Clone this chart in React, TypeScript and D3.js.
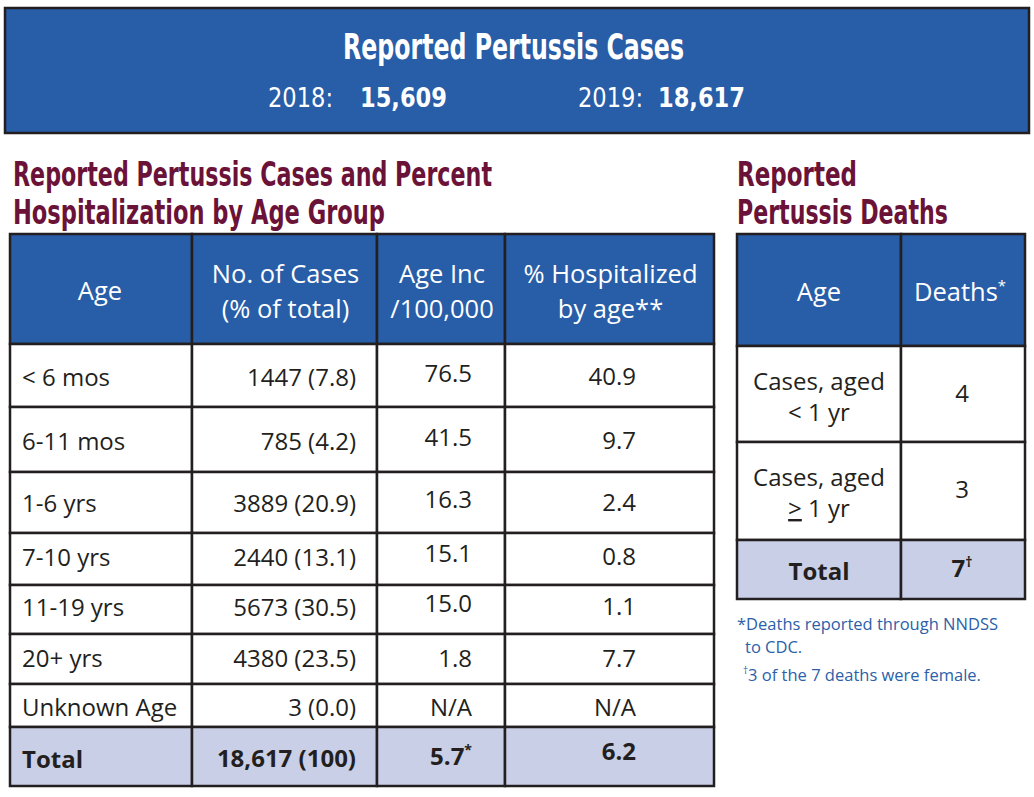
import React from "react";
import * as d3 from "d3";

// ---------- data ----------
const headlineYears = [2018, 2019];
const headlineCases = [15609, 18617];

const ageGroups = ["< 6 mos", "6-11 mos", "1-6 yrs", "7-10 yrs", "11-19 yrs", "20+ yrs", "Unknown Age"];
const caseCounts = [1447, 785, 3889, 2440, 5673, 4380, 3];
const casePercents = [7.8, 4.2, 20.9, 13.1, 30.5, 23.5, 0.0];
const incidence: (number | null)[] = [76.5, 41.5, 16.3, 15.1, 15.0, 1.8, null];
const pctHospitalized: (number | null)[] = [40.9, 9.7, 2.4, 0.8, 1.1, 7.7, null];
const totalCases = 18617;
const totalPercent = 100;
const totalIncidence = 5.7;
const totalHospitalized = 6.2;

const caseHeaders = [["Age"], ["No. of Cases", "(% of total)"], ["Age Inc", "/100,000"], ["% Hospitalized", "by age**"]];

const deathGroupsLine1 = ["Cases, aged", "Cases, aged"];
const deathGroupsSymbol = ["<", ">"];
const deathGroupsRest = [" 1 yr", " 1 yr"];
const deathCounts = [4, 3];
const totalDeaths = 7;

const footnotes = ["*Deaths reported through NNDSS", "to CDC.", "3 of the 7 deaths were female."];

// ---------- style / layout ----------
const BLUE = "#285da7";
const MAROON = "#6b1238";
const INK = "#231f20";
const TOTAL_BG = "#c9cfe6";
const FOOT = "#2b5fa9";
const BODY_FONT = "'Open Sans', Lato, sans-serif";
const COND_FONT = "'Liberation Sans Narrow', 'DejaVu Sans Condensed', sans-serif";
const SW = 2.5;
const BODY_SIZE = 24;
const HEAD_SIZE = 25.5;

const colX = [10, 192, 377, 505, 714];
const rowY = [234, 344, 407, 472, 533, 585, 634, 684, 727, 786];
const rowBase = [386, 450, 512, 566, 616, 667, 716, 768];

const dColX = [737, 901, 1025];
const dRowY = [234, 346, 442, 540, 599];

const fmt = d3.format(",");
const f1 = d3.format(".1f");

export default function App() {
  const caseRows = ageGroups.map((g, i) => ({
    age: g,
    cases: `${caseCounts[i]} (${f1(casePercents[i])})`,
    inc: incidence[i] == null ? "N/A" : f1(incidence[i] as number),
    hosp: pctHospitalized[i] == null ? "N/A" : f1(pctHospitalized[i] as number),
  }));

  return (
    <div style={{ position: "absolute", left: 0, top: 0 }}>
      <svg width={1034} height={797} style={{ display: "block", background: "#fff" }}>
        {/* banner */}
        <rect x={5} y={8} width={1024} height={125} fill={BLUE} stroke={INK} strokeWidth={2.5} />
        <text x={343} y={59} fill="#fff" fontFamily={COND_FONT} fontWeight="bold" fontSize={36}
          textLength={341} lengthAdjust="spacingAndGlyphs">Reported Pertussis Cases</text>
        <text x={268} y={107} fill="#fff" fontFamily={COND_FONT} fontSize={27} textLength={65} lengthAdjust="spacingAndGlyphs">{`${headlineYears[0]}:`}</text>
        <text x={360} y={107} fill="#fff" fontFamily={COND_FONT} fontWeight="bold" fontSize={27} textLength={87} lengthAdjust="spacingAndGlyphs">{fmt(headlineCases[0])}</text>
        <text x={578} y={107} fill="#fff" fontFamily={COND_FONT} fontSize={27} textLength={65} lengthAdjust="spacingAndGlyphs">{`${headlineYears[1]}:`}</text>
        <text x={658} y={107} fill="#fff" fontFamily={COND_FONT} fontWeight="bold" fontSize={27} textLength={87} lengthAdjust="spacingAndGlyphs">{fmt(headlineCases[1])}</text>

        {/* section titles */}
        <g fill={MAROON} fontFamily={COND_FONT} fontWeight="bold" fontSize={34}>
          <text x={13} y={186} textLength={479} lengthAdjust="spacingAndGlyphs">Reported Pertussis Cases and Percent</text>
          <text x={13} y={224} textLength={372} lengthAdjust="spacingAndGlyphs">Hospitalization by Age Group</text>
          <text x={737} y={186} textLength={120} lengthAdjust="spacingAndGlyphs">Reported</text>
          <text x={737} y={224} textLength={211} lengthAdjust="spacingAndGlyphs">Pertussis Deaths</text>
        </g>

        {/* cases table */}
        <g>
          {caseHeaders.map((h, c) => (
            <g key={"h" + c}>
              <rect x={colX[c]} y={rowY[0]} width={colX[c + 1] - colX[c]} height={rowY[1] - rowY[0]} fill={BLUE} stroke={INK} strokeWidth={SW} />
              {h.length === 1 ? (
                <text x={(colX[c] + colX[c + 1]) / 2 - 1} y={300} fill="#fff" fontFamily={BODY_FONT} fontSize={HEAD_SIZE} textAnchor="middle">{h[0]}</text>
              ) : (
                h.map((line, k) => (
                  <text key={k} x={(colX[c] + colX[c + 1]) / 2 + 1} y={283 + k * 35} fill="#fff" fontFamily={BODY_FONT} fontSize={HEAD_SIZE} textAnchor="middle">
                    {line}
                  </text>
                ))
              )}
            </g>
          ))}
          {caseRows.map((r, i) => (
            <g key={"r" + i} fontFamily={BODY_FONT} fontSize={BODY_SIZE} fill={INK}>
              {[0, 1, 2, 3].map((c) => (
                <rect key={c} x={colX[c]} y={rowY[i + 1]} width={colX[c + 1] - colX[c]} height={rowY[i + 2] - rowY[i + 1]} fill="#fff" stroke={INK} strokeWidth={SW} />
              ))}
              <text x={22} y={rowBase[i]}>{r.age}</text>
              <text x={356} y={rowBase[i]} textAnchor="end">{r.cases}</text>
              <text x={472} y={rowBase[i] - (i < 5 ? 4 : 0)} textAnchor="end">{r.inc}</text>
              <text x={636} y={rowBase[i] - (i < 5 ? 1 : 0)} textAnchor="end">{r.hosp}</text>
            </g>
          ))}
          <g fontFamily={BODY_FONT} fontSize={BODY_SIZE} fontWeight="bold" fill={INK}>
            {[0, 1, 2, 3].map((c) => (
              <rect key={c} x={colX[c]} y={rowY[8]} width={colX[c + 1] - colX[c]} height={rowY[9] - rowY[8]} fill={TOTAL_BG} stroke={INK} strokeWidth={SW} />
            ))}
            <text x={22} y={768}>Total</text>
            <text x={356} y={767} textAnchor="end">{`${fmt(totalCases)} (${totalPercent})`}</text>
            <text x={472} y={765} textAnchor="end">
              {f1(totalIncidence)}
              <tspan fontSize={14} dy={-10}>*</tspan>
            </text>
            <text x={636} y={760} textAnchor="end">{f1(totalHospitalized)}</text>
          </g>
        </g>

        {/* deaths table */}
        <g>
          <rect x={dColX[0]} y={dRowY[0]} width={dColX[1] - dColX[0]} height={dRowY[1] - dRowY[0]} fill={BLUE} stroke={INK} strokeWidth={SW} />
          <rect x={dColX[1]} y={dRowY[0]} width={dColX[2] - dColX[1]} height={dRowY[1] - dRowY[0]} fill={BLUE} stroke={INK} strokeWidth={SW} />
          <text x={819} y={301} fill="#fff" fontFamily={BODY_FONT} fontSize={HEAD_SIZE} textAnchor="middle">Age</text>
          <text x={960} y={301} fill="#fff" fontFamily={BODY_FONT} fontSize={HEAD_SIZE} textAnchor="middle">
            Deaths<tspan fontSize={15} dy={-10}>*</tspan>
          </text>
          {deathCounts.map((v, i) => (
            <g key={"d" + i} fontFamily={BODY_FONT} fontSize={BODY_SIZE} fill={INK}>
              <rect x={dColX[0]} y={dRowY[i + 1]} width={dColX[1] - dColX[0]} height={dRowY[i + 2] - dRowY[i + 1]} fill="#fff" stroke={INK} strokeWidth={SW} />
              <rect x={dColX[1]} y={dRowY[i + 1]} width={dColX[2] - dColX[1]} height={dRowY[i + 2] - dRowY[i + 1]} fill="#fff" stroke={INK} strokeWidth={SW} />
              <text x={819} y={dRowY[i + 1] + 44} textAnchor="middle">{deathGroupsLine1[i]}</text>
              <text x={819} y={dRowY[i + 1] + 75} textAnchor="middle">
                <tspan textDecoration={i === 1 ? "underline" : undefined}>{deathGroupsSymbol[i]}</tspan>
                {deathGroupsRest[i]}
              </text>
              <text x={962} y={dRowY[i + 1] + 56} textAnchor="middle">{v}</text>
            </g>
          ))}
          <g fontFamily={BODY_FONT} fontSize={BODY_SIZE} fontWeight="bold" fill={INK}>
            <rect x={dColX[0]} y={dRowY[3]} width={dColX[1] - dColX[0]} height={dRowY[4] - dRowY[3]} fill={TOTAL_BG} stroke={INK} strokeWidth={SW} />
            <rect x={dColX[1]} y={dRowY[3]} width={dColX[2] - dColX[1]} height={dRowY[4] - dRowY[3]} fill={TOTAL_BG} stroke={INK} strokeWidth={SW} />
            <text x={819} y={580} textAnchor="middle">Total</text>
            <text x={962} y={577} textAnchor="middle">
              {totalDeaths}<tspan fontSize={14} dy={-10}>†</tspan>
            </text>
          </g>
        </g>

        {/* footnotes */}
        <g fill={FOOT} fontFamily={BODY_FONT} fontSize={16.5}>
          <text x={737} y={630}>{footnotes[0]}</text>
          <text x={745} y={653}>{footnotes[1]}</text>
          <text x={743} y={681}>
            <tspan fontSize={10} dy={-7}>†</tspan>
            <tspan dy={7}>{footnotes[2]}</tspan>
          </text>
        </g>
      </svg>
    </div>
  );
}
